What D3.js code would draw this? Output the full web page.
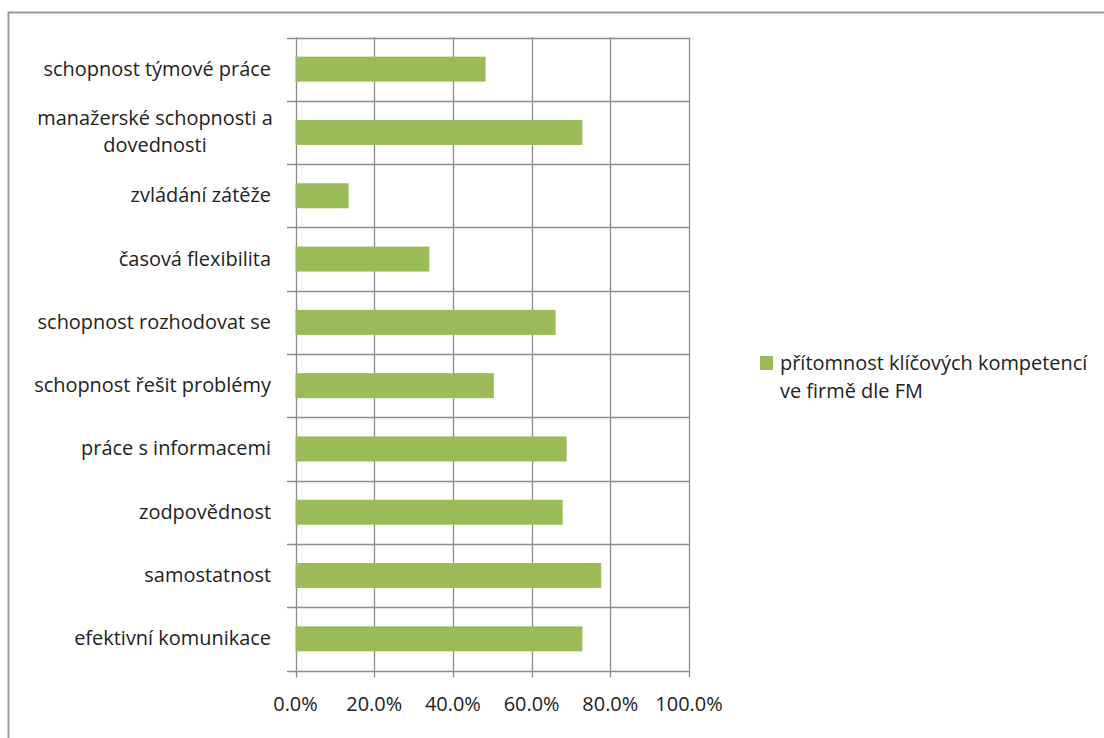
<!DOCTYPE html>
<html><head><meta charset="utf-8">
<script src="https://cdn.jsdelivr.net/npm/d3@7"></script>
<style>
html,body{margin:0;padding:0;background:#fff;}
svg{display:block;}
text{font-family:"Open Sans","Noto Sans",sans-serif;fill:#222;}
</style></head>
<body>
<svg id="c" width="1104" height="738"></svg>
<script>
const categories = [
  ["schopnost týmové práce"],
  ["manažerské schopnosti a", "dovednosti"],
  ["zvládání zátěže"],
  ["časová flexibilita"],
  ["schopnost rozhodovat se"],
  ["schopnost řešit problémy"],
  ["práce s informacemi"],
  ["zodpovědnost"],
  ["samostatnost"],
  ["efektivní komunikace"]
];
const values = [0.483, 0.729, 0.135, 0.340, 0.661, 0.504, 0.689, 0.679, 0.777, 0.729];
const tickValues = [0, 0.2, 0.4, 0.6, 0.8, 1.0];
const seriesName = ["přítomnost klíčových kompetencí", "ve firmě dle FM"];

const svg = d3.select("#c");
let fs = 20;
const gridColor = "#8c8c8c";
const barColor = "#9bbb59";

// fit font size so the widest label width matches the reference (~237px)
const probe = svg.append("text").attr("font-size",fs).text("schopnost řešit problémy");
const w = probe.node().getComputedTextLength();
probe.remove();
fs = fs * 237 / w;

// outer frame
svg.append("path").attr("d","M8.5,738 L8.5,12.5 L1104,12.5")
  .attr("fill","none").attr("stroke","#9a9a9a").attr("stroke-width",2);

const x = d3.scaleLinear().domain([0,1]).range([295.5, 689]);
const y = d3.scaleBand().domain(d3.range(categories.length)).range([37.5, 670.5]);

svg.append("g").selectAll("line").data(tickValues).join("line")
  .attr("x1", d=>Math.round(x(d))+0.5).attr("x2", d=>Math.round(x(d))+0.5)
  .attr("y1", y.range()[0]).attr("y2", y.range()[1])
  .attr("stroke", gridColor).attr("stroke-width",1.3);

const bounds = d3.range(categories.length+1).map(i => y.range()[0] + i*y.step());
svg.append("g").selectAll("line").data(bounds).join("line")
  .attr("x1", 287).attr("x2", x(1))
  .attr("y1", d=>Math.round(d)+0.5).attr("y2", d=>Math.round(d)+0.5)
  .attr("stroke", gridColor).attr("stroke-width",1.3);

svg.append("g").selectAll("line").data(tickValues).join("line")
  .attr("x1", d=>Math.round(x(d))+0.5).attr("x2", d=>Math.round(x(d))+0.5)
  .attr("y1", y.range()[1]).attr("y2", y.range()[1]+7)
  .attr("stroke", gridColor).attr("stroke-width",1.3);

const barH = 25;
svg.append("g").selectAll("rect").data(values).join("rect")
  .attr("x", x(0)).attr("y", (d,i)=> y(i) + y.bandwidth()/2 - barH/2)
  .attr("width", d=> x(d)-x(0)).attr("height", barH)
  .attr("fill", barColor);

svg.append("g").selectAll("text").data(tickValues).join("text")
  .attr("x", d=>x(d)).attr("y", 711)
  .attr("text-anchor","middle").attr("font-size",fs)
  .text(d=>d3.format(".1%")(d));

const lg = svg.append("g");
categories.forEach((lines,i)=>{
  const cy = y(i)+y.bandwidth()/2;
  const lh = 27;
  const t = lg.append("text").attr("text-anchor", lines.length>1?"middle":"end")
    .attr("font-size",fs);
  lines.forEach((ln,j)=>{
    const off = (j - (lines.length-1)/2)*lh;
    t.append("tspan").attr("x", lines.length>1 ? 155 : 271)
      .attr("y", cy + off + 6.5).text(ln);
  });
});

svg.append("rect").attr("x",760).attr("y",356).attr("width",13).attr("height",14).attr("fill",barColor);
const lt = svg.append("text").attr("font-size",fs);
seriesName.forEach((s,j)=>{
  lt.append("tspan").attr("x",780).attr("y",370+j*28).text(s);
});
</script>
</body></html>
